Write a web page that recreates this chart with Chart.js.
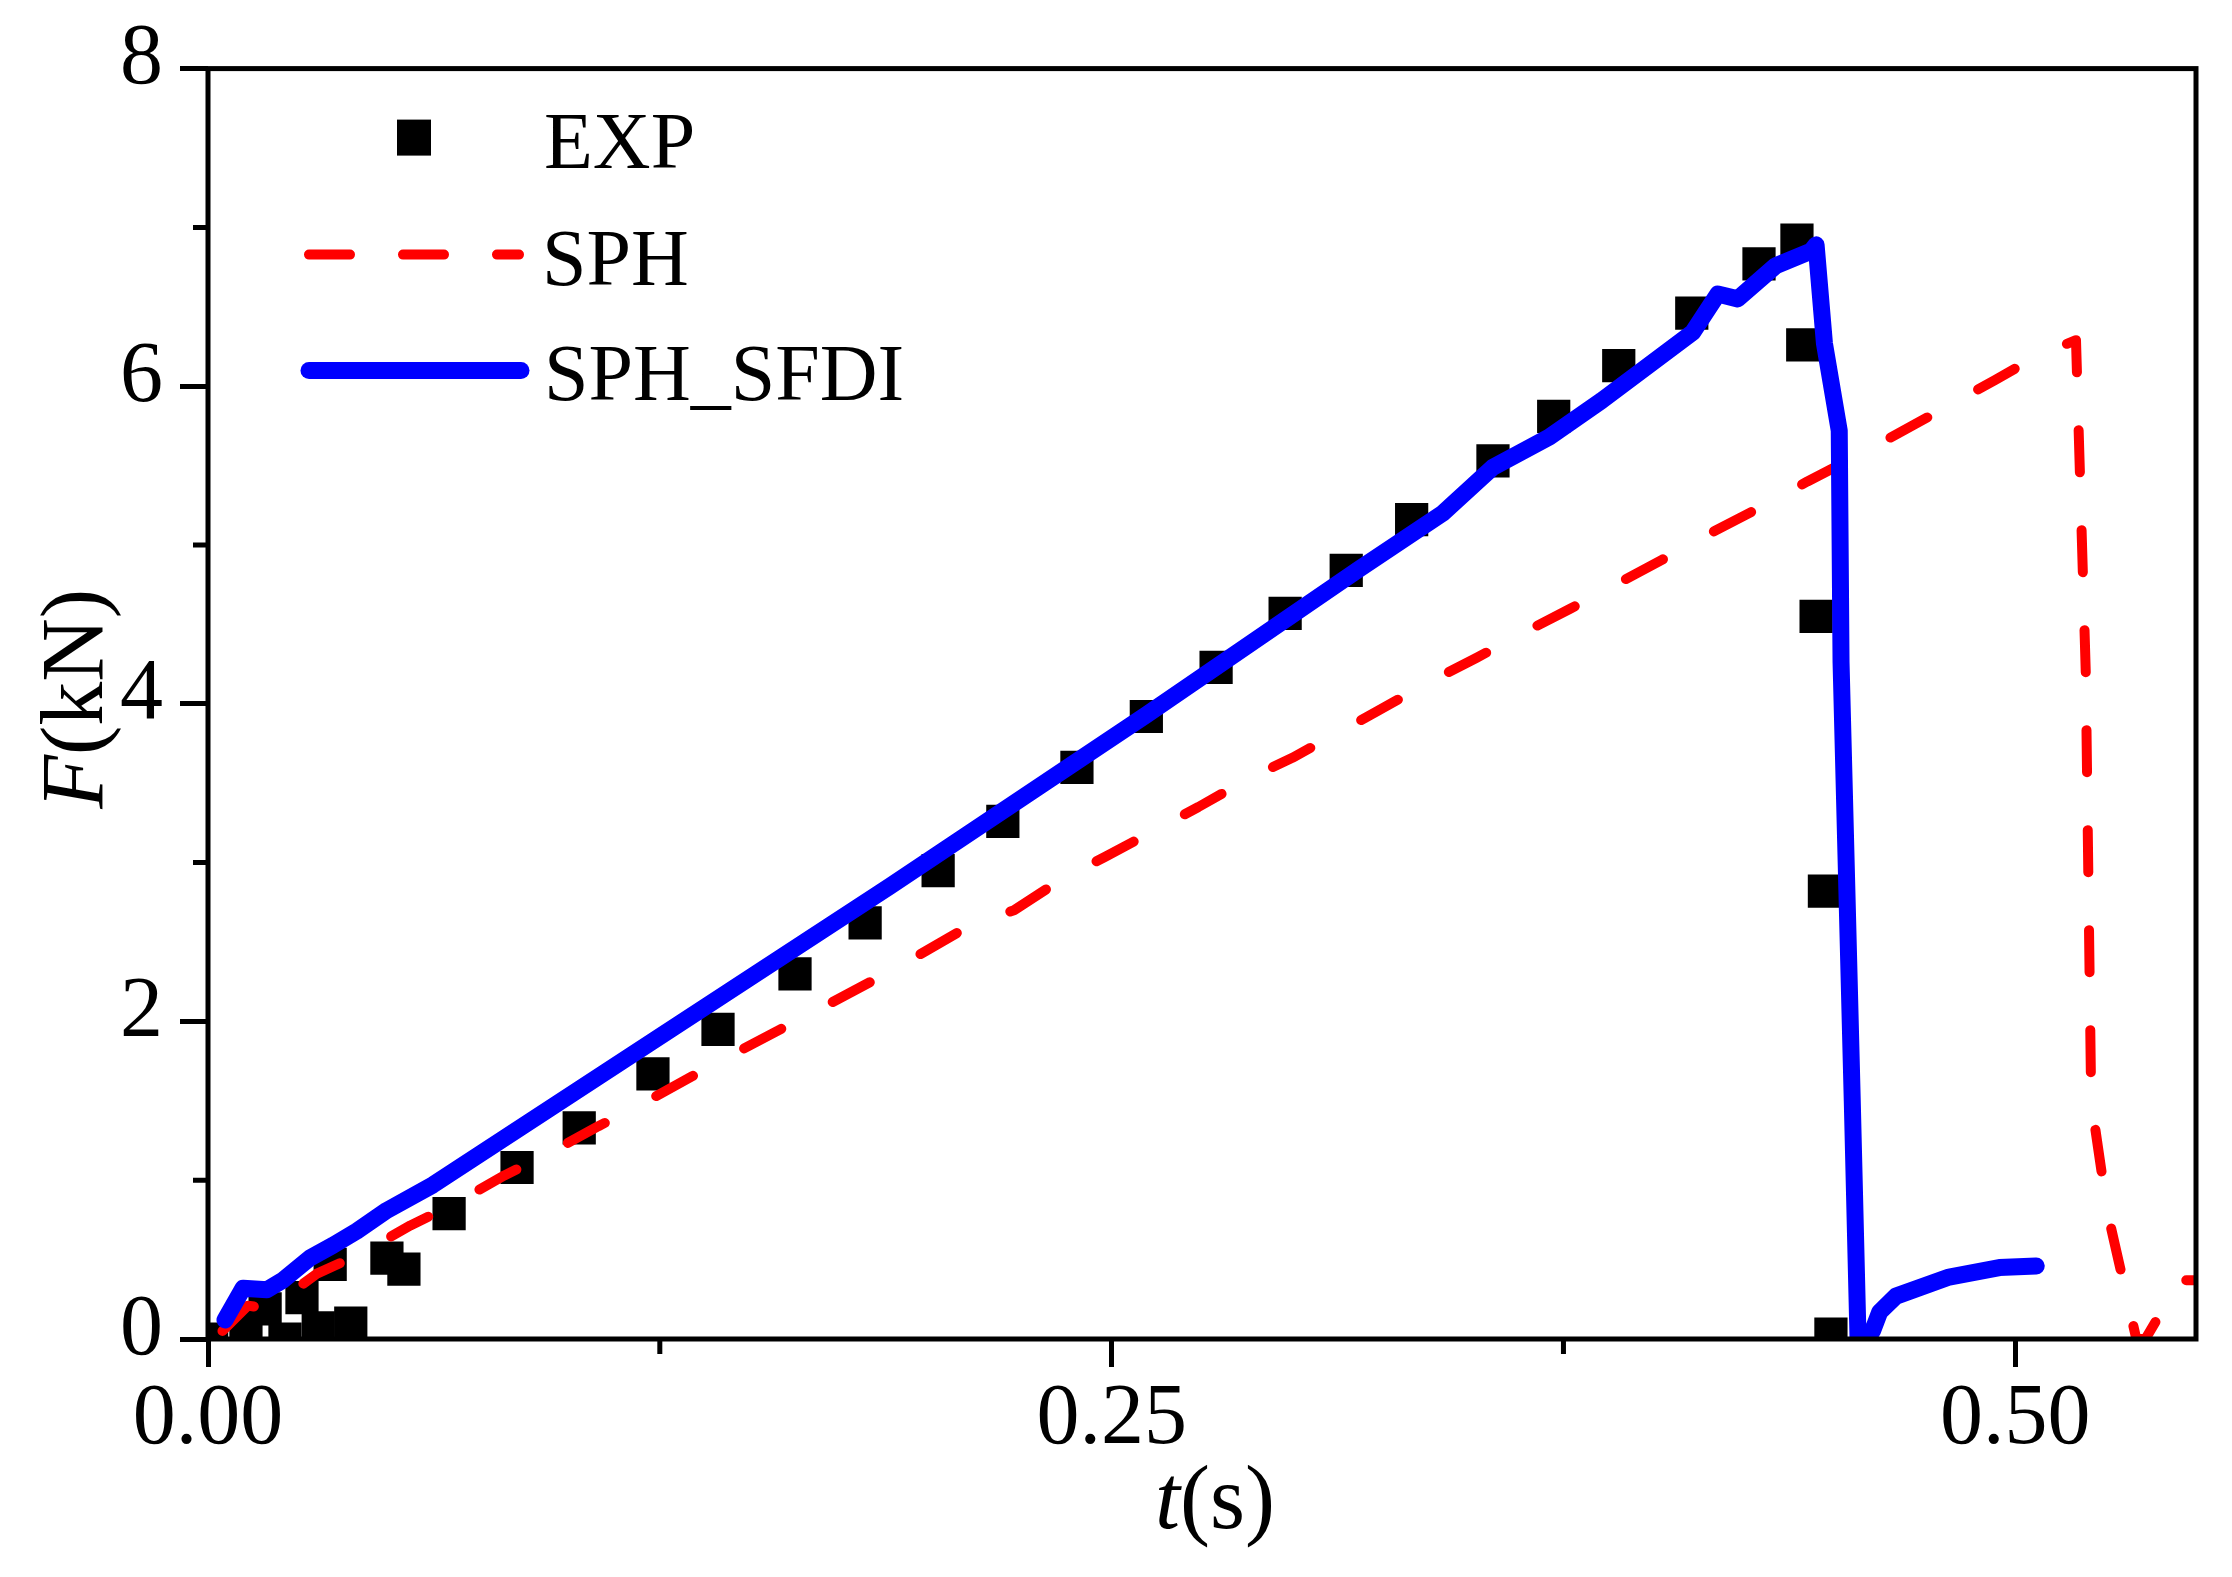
<!DOCTYPE html>
<html>
<head>
<meta charset="utf-8">
<script src="https://cdn.jsdelivr.net/npm/chart.js@4.4.0/dist/chart.umd.min.js"></script>
<style>
  html, body { margin: 0; padding: 0; background: #fff; }
  #wrap { width: 2232px; height: 1577px; }
</style>
</head>
<body>
<div id="wrap"><canvas id="chart" width="2232" height="1577"></canvas></div>
<script>
// Force F(kN) against time t(s): experiment and two SPH runs
// values read off the published figure

// Axis ticks
const xMajorTicks = [0, 0.25, 0.5];
const xMinorTicks = [0.125, 0.375];
const yMajorTicks = [0, 2, 4, 6, 8];
const yMinorTicks = [1, 3, 5, 7];

// EXP (measured points)
const expT = [0.001, 0.0105, 0.0158, 0.0213, 0.026, 0.0305, 0.0338, 0.0395, 0.0495, 0.0542,
  0.0667, 0.0855, 0.1027, 0.1231, 0.1411, 0.1624, 0.1818, 0.202, 0.2199, 0.2404,
  0.2596, 0.2789, 0.298, 0.3149, 0.333, 0.3555, 0.3723, 0.3903, 0.4105, 0.4291,
  0.4396, 0.4412, 0.4449, 0.4472, 0.449];
const expF = [0.0, 0.10, 0.19, 0.0, 0.26, 0.07, 0.47, 0.10, 0.51, 0.44,
  0.79, 1.08, 1.33, 1.67, 1.95, 2.30, 2.62, 2.95, 3.26, 3.60,
  3.92, 4.23, 4.57, 4.84, 5.16, 5.53, 5.81, 6.13, 6.46, 6.77,
  6.92, 6.26, 4.55, 2.82, 0.03];

// SPH (dashed red)
const sphT = [0.004, 0.011, 0.017, 0.03, 0.0425, 0.056, 0.068, 0.082, 0.094, 0.108,
  0.12, 0.134, 0.145, 0.16, 0.171, 0.19, 0.212, 0.223, 0.2365, 0.2485,
  0.2625, 0.274, 0.288, 0.30, 0.314, 0.324, 0.339, 0.351, 0.365, 0.377,
  0.391, 0.4025, 0.417, 0.428, 0.4425, 0.454, 0.469, 0.481, 0.4945, 0.506,
  0.5168, 0.5195, 0.521, 0.5255, 0.5335, 0.536, 0.5412, 0.544, 0.55];
const sphF = [0.05, 0.21, 0.19, 0.41, 0.54, 0.715, 0.85, 1.03, 1.165, 1.34,
  1.48, 1.655, 1.79, 1.97, 2.10, 2.33, 2.62, 2.70, 2.90, 3.04,
  3.21, 3.35, 3.53, 3.66, 3.835, 3.96, 4.15, 4.29, 4.46, 4.60,
  4.77, 4.91, 5.09, 5.22, 5.40, 5.535, 5.72, 5.87, 6.04, 6.19,
  6.29, 4.2, 1.5, 0.8, 0.0, 0.0, 0.2, 0.37, 0.37];

// SPH_SFDI (solid blue)
const sfdiT = [0.0047, 0.0097, 0.0163, 0.0207, 0.0282, 0.0346, 0.0412, 0.0495, 0.0622, 0.1886,
  0.2596, 0.3186, 0.3416, 0.3555, 0.3711, 0.3856, 0.4108, 0.4177, 0.4232, 0.4338,
  0.4435, 0.4449, 0.4472, 0.4513, 0.4518, 0.4549, 0.4565, 0.4605, 0.4625, 0.467,
  0.4817, 0.4956, 0.5058];
const sfdiF = [0.12, 0.32, 0.31, 0.37, 0.51, 0.59, 0.68, 0.81, 0.97, 2.85,
  3.93, 4.85, 5.20, 5.49, 5.68, 5.91, 6.34, 6.58, 6.55, 6.76,
  6.85, 6.89, 6.27, 5.72, 4.26, 1.5, 0.0, 0.05, 0.17, 0.27,
  0.39, 0.45, 0.46];

const FONT = "'Liberation Serif', 'Times New Roman', serif";

// helper: zip two arrays into {x, y} points
function toPoints(xs, ys) {
  return xs.map((x, i) => ({ x: x, y: ys[i] }));
}

// draw a run of text where some parts are italic, centred on x
function drawMixedText(ctx, parts, x, y, size) {
  let total = 0;
  parts.forEach(p => {
    ctx.font = (p.italic ? 'italic ' : '') + size + 'px ' + FONT;
    p.w = ctx.measureText(p.text).width;
    total += p.w;
  });
  let cx = x - total / 2;
  parts.forEach(p => {
    ctx.font = (p.italic ? 'italic ' : '') + size + 'px ' + FONT;
    ctx.fillText(p.text, cx, y);
    cx += p.w;
  });
}

// Frame, minor ticks, axis titles and the legend inside the plot
const framePlugin = {
  id: 'frame',
  afterDraw(chart) {
    const ctx = chart.ctx;
    const a = chart.chartArea;
    const xs = chart.scales.x;
    const ys = chart.scales.y;
    ctx.save();

    // box round the plot
    ctx.strokeStyle = '#000';
    ctx.lineWidth = 5;
    ctx.strokeRect(a.left, a.top, a.right - a.left, a.bottom - a.top);

    // minor ticks (outward, shorter)
    ctx.beginPath();
    xMinorTicks.forEach(v => {
      const px = xs.getPixelForValue(v);
      ctx.moveTo(px, a.bottom);
      ctx.lineTo(px, a.bottom + 15);
    });
    yMinorTicks.forEach(v => {
      const py = ys.getPixelForValue(v);
      ctx.moveTo(a.left, py);
      ctx.lineTo(a.left - 15, py);
    });
    ctx.stroke();

    // axis titles
    ctx.fillStyle = '#000';
    ctx.textBaseline = 'alphabetic';
    ctx.textAlign = 'left';
    drawMixedText(ctx, [{ text: 't', italic: true }, { text: '(s)' }],
      (a.left + a.right) / 2 + 13, chart.height - 49, 90);
    ctx.save();
    ctx.translate(102, (a.top + a.bottom) / 2 - 5);
    ctx.rotate(-Math.PI / 2);
    drawMixedText(ctx, [{ text: 'F', italic: true }, { text: '(kN)' }], 0, 0, 88);
    ctx.restore();

    // legend
    const ds = chart.data.datasets;
    const lx = a.left, ly = a.top;
    ctx.font = '80px ' + FONT;
    // EXP marker
    ctx.fillStyle = ds[0].pointBackgroundColor;
    ctx.fillRect(lx + 206 - 17, ly + 69 - 18, 34, 36);
    ctx.fillStyle = '#000';
    ctx.fillText(ds[0].label, lx + 336, ly + 99);
    // SPH dashed
    ctx.strokeStyle = ds[1].borderColor;
    ctx.lineWidth = ds[1].borderWidth;
    ctx.lineCap = 'round';
    ctx.setLineDash([41, 53]);
    ctx.beginPath();
    ctx.moveTo(lx + 101, ly + 186);
    ctx.lineTo(lx + 311, ly + 186);
    ctx.stroke();
    ctx.setLineDash([]);
    ctx.fillText(ds[1].label, lx + 334, ly + 216);
    // SPH_SFDI solid
    ctx.strokeStyle = ds[2].borderColor;
    ctx.lineWidth = ds[2].borderWidth;
    ctx.beginPath();
    ctx.moveTo(lx + 101, ly + 302);
    ctx.lineTo(lx + 313, ly + 302);
    ctx.stroke();
    ctx.fillText(ds[2].label, lx + 336, ly + 331);

    ctx.restore();
  }
};

const tickFont = { family: FONT, size: 86 };

new Chart(document.getElementById('chart'), {
  type: 'scatter',
  data: {
    datasets: [
      {
        label: 'EXP',
        data: toPoints(expT, expF),
        showLine: false,
        pointStyle: 'rect',
        pointRadius: 23.5,
        pointBorderWidth: 0,
        pointBackgroundColor: '#000000',
        pointBorderColor: '#000000',
        order: 3
      },
      {
        label: 'SPH',
        data: toPoints(sphT, sphF),
        showLine: true,
        pointRadius: 0,
        borderColor: '#ff0000',
        borderWidth: 10,
        borderDash: [42, 58],
        borderCapStyle: 'round',
        borderJoinStyle: 'round',
        tension: 0,
        order: 2
      },
      {
        label: 'SPH_SFDI',
        data: toPoints(sfdiT, sfdiF),
        showLine: true,
        pointRadius: 0,
        borderColor: '#0000ff',
        borderWidth: 17,
        borderCapStyle: 'round',
        borderJoinStyle: 'round',
        tension: 0,
        order: 1
      }
    ]
  },
  options: {
    responsive: false,
    devicePixelRatio: 1,
    animation: false,
    layout: { padding: { left: 0, top: 64, right: 36, bottom: 0 } },
    plugins: {
      legend: { display: false },
      tooltip: { enabled: false }
    },
    scales: {
      x: {
        type: 'linear',
        min: 0,
        max: 0.55,
        afterBuildTicks: s => { s.ticks = xMajorTicks.map(v => ({ value: v })); },
        afterFit: s => { s.height = 238; },
        ticks: {
          callback: v => v.toFixed(2),
          font: tickFont,
          color: '#000',
          padding: 2,
          maxRotation: 0,
          autoSkip: false
        },
        grid: {
          drawOnChartArea: false,
          drawTicks: true,
          tickLength: 28,
          tickWidth: 5,
          tickColor: '#000'
        },
        border: { display: false }
      },
      y: {
        type: 'linear',
        min: 0,
        max: 8,
        afterBuildTicks: s => { s.ticks = yMajorTicks.map(v => ({ value: v })); },
        afterFit: s => { s.width = 208; },
        ticks: {
          callback: v => String(v),
          font: tickFont,
          color: '#000',
          padding: 17,
          labelOffset: -8,
          autoSkip: false
        },
        grid: {
          drawOnChartArea: false,
          drawTicks: true,
          tickLength: 28,
          tickWidth: 5,
          tickColor: '#000'
        },
        border: { display: false }
      }
    }
  },
  plugins: [framePlugin]
});
</script>
</body>
</html>
